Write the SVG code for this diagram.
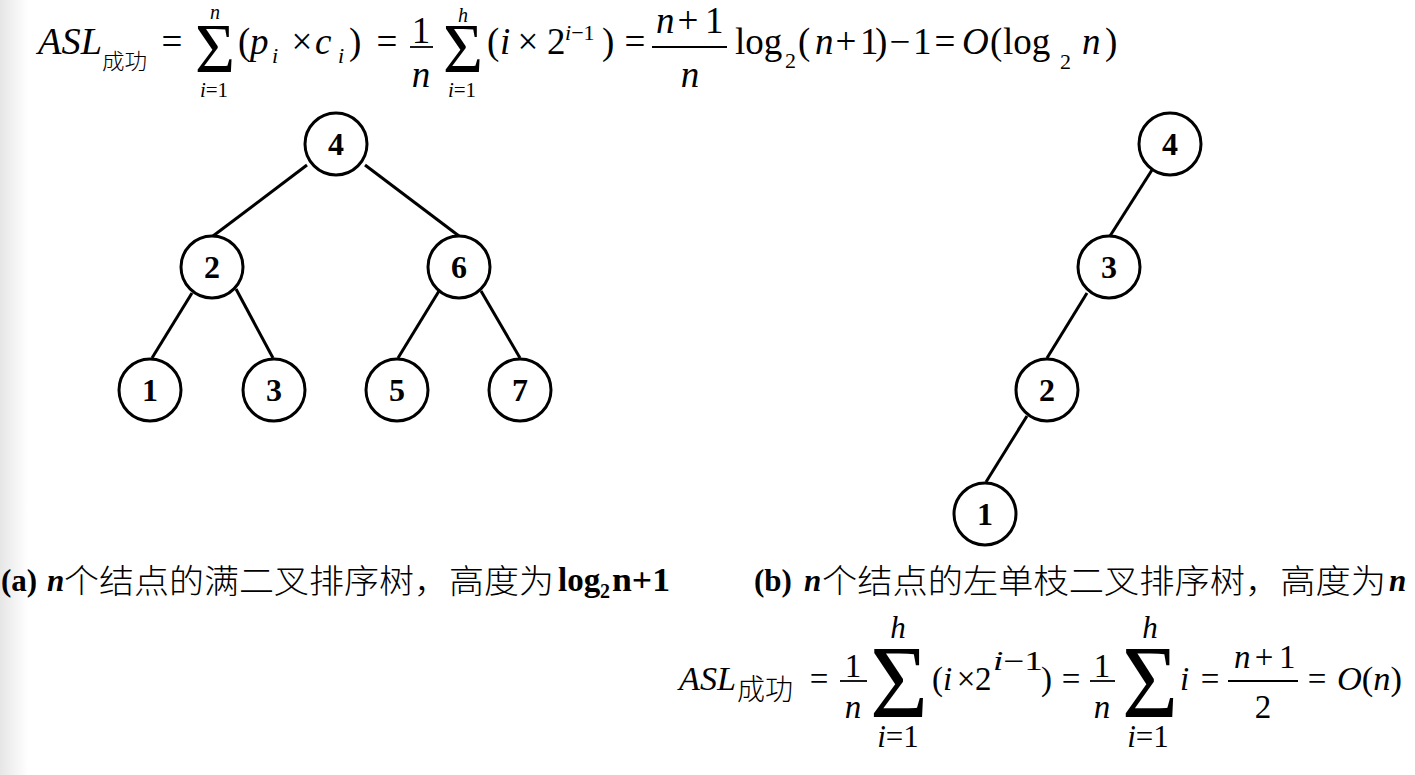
<svg xmlns="http://www.w3.org/2000/svg" width="1415" height="775" viewBox="0 0 1415 775">
<defs>
<linearGradient id="edgeShade" x1="0" y1="0" x2="1" y2="0">
<stop offset="0" stop-color="#e6e6e6"/>
<stop offset="1" stop-color="#ffffff"/>
</linearGradient>
<style>
.m{font-family:'Liberation Serif','Noto Sans CJK SC',serif;fill:#000}
.it{font-style:italic}
.b{font-weight:bold}
.c{text-anchor:middle}
.cjk{font-family:'Liberation Serif','Noto Sans CJK SC',sans-serif;font-weight:300;fill:#000}
.bar{stroke:#000;stroke-width:1.8}
.node circle{fill:#fff;stroke:#000;stroke-width:3}
.node text{font-family:'Liberation Serif',serif;font-weight:bold;font-size:32px;text-anchor:middle;fill:#000}
#connectors line{stroke:#000;stroke-width:3}
</style>
</defs>
<rect width="1415" height="775" fill="#fff"/>
<rect x="0" y="0" width="28" height="775" fill="url(#edgeShade)"/>

<!-- top formula -->
<g id="formula-top" class="m" font-size="37">
<text class="it" x="38" y="54" textLength="64" lengthAdjust="spacingAndGlyphs">ASL</text>
<text class="cjk" x="102" y="69" font-size="22" textLength="45" lengthAdjust="spacingAndGlyphs">成功</text>
<text class="c" x="172" y="54">=</text>
<text class="c" x="215" y="72" font-size="70" textLength="40" lengthAdjust="spacingAndGlyphs">Σ</text>
<text class="c it" x="215" y="19" font-size="20">n</text>
<text class="c" x="214" y="97" font-size="21"><tspan class="it">i</tspan>=1</text>
<text x="238" y="54">(</text>
<text class="it" x="250" y="54">p</text>
<text class="it" x="272" y="63" font-size="22">i</text>
<text class="c" x="302" y="54">×</text>
<text class="it" x="315" y="54">c</text>
<text class="it" x="338" y="63" font-size="22">i</text>
<text x="349" y="54">)</text>
<text class="c" x="387" y="54">=</text>
<text class="c" x="421" y="43">1</text>
<line class="bar" x1="410" y1="47" x2="433" y2="47"/>
<text class="c it" x="421" y="87">n</text>
<text class="c" x="463" y="72" font-size="70" textLength="40" lengthAdjust="spacingAndGlyphs">Σ</text>
<text class="c it" x="463" y="22" font-size="20">h</text>
<text class="c" x="462" y="97" font-size="21"><tspan class="it">i</tspan>=1</text>
<text x="487" y="54">(</text>
<text class="it" x="500" y="54">i</text>
<text class="c" x="528" y="54">×</text>
<text x="547" y="54">2</text>
<text x="565" y="40" font-size="22"><tspan class="it">i</tspan>−1</text>
<text x="602" y="54">)</text>
<text class="c" x="635" y="54">=</text>
<text class="it" x="656" y="33">n</text>
<text class="c" x="688" y="33">+</text>
<text x="705" y="33">1</text>
<line class="bar" x1="652" y1="47" x2="727" y2="47"/>
<text class="c it" x="690" y="87">n</text>
<text x="735" y="54">log</text>
<text x="785" y="68" font-size="22">2</text>
<text x="798" y="54">(</text>
<text class="it" x="815" y="54">n</text>
<text class="c" x="846" y="54">+</text>
<text x="860" y="54">1</text>
<text x="875" y="54">)</text>
<text class="c" x="900" y="54">−</text>
<text x="913" y="54">1</text>
<text class="c" x="945" y="54">=</text>
<text class="it" x="962" y="54">O</text>
<text x="990" y="54">(</text>
<text x="1003" y="54">log</text>
<text x="1060" y="69" font-size="22">2</text>
<text class="it" x="1082" y="54">n</text>
<text x="1105" y="54">)</text>
</g>

<!-- connectors -->
<g id="connectors">
<line x1="307" y1="165" x2="213" y2="236"/>
<line x1="365" y1="165" x2="459" y2="236"/>
<line x1="192" y1="293" x2="152" y2="358"/>
<line x1="236" y1="289" x2="273" y2="358"/>
<line x1="439" y1="291" x2="398" y2="358"/>
<line x1="481" y1="291" x2="520" y2="358"/>
<line x1="1152" y1="170" x2="1110" y2="236"/>
<line x1="1087" y1="293" x2="1047" y2="358"/>
<line x1="1027" y1="416" x2="986" y2="482"/>
</g>

<!-- left tree -->
<g id="a-node-4" class="node"><circle cx="336" cy="144" r="31"/><text x="336" y="155">4</text></g>
<g id="a-node-2" class="node"><circle cx="212" cy="267" r="31"/><text x="212" y="278">2</text></g>
<g id="a-node-6" class="node"><circle cx="459" cy="267" r="31"/><text x="459" y="278">6</text></g>
<g id="a-node-1" class="node"><circle cx="150" cy="390" r="31"/><text x="150" y="401">1</text></g>
<g id="a-node-3" class="node"><circle cx="274" cy="390" r="31"/><text x="274" y="401">3</text></g>
<g id="a-node-5" class="node"><circle cx="397" cy="390" r="31"/><text x="397" y="401">5</text></g>
<g id="a-node-7" class="node"><circle cx="520" cy="390" r="31"/><text x="520" y="401">7</text></g>

<!-- right tree -->
<g id="b-node-4" class="node"><circle cx="1170" cy="144" r="31"/><text x="1170" y="155">4</text></g>
<g id="b-node-3" class="node"><circle cx="1109" cy="267" r="31"/><text x="1109" y="278">3</text></g>
<g id="b-node-2" class="node"><circle cx="1047" cy="390" r="31"/><text x="1047" y="401">2</text></g>
<g id="b-node-1" class="node"><circle cx="985" cy="514" r="31"/><text x="985" y="525">1</text></g>

<!-- captions -->
<g id="caption-a" class="m">
<text class="b" x="1" y="591" font-size="31">(a)</text>
<text class="b it" x="47" y="591" font-size="31">n</text>
<text class="cjk" x="64" y="593" font-size="33" textLength="490" lengthAdjust="spacingAndGlyphs">个结点的满二叉排序树，高度为</text>
<text class="b" x="558" y="591" font-size="33">log</text>
<text class="b" x="600" y="598" font-size="20">2</text>
<text class="b" x="612" y="591" font-size="33" textLength="58" lengthAdjust="spacingAndGlyphs">n+1</text>
</g>
<g id="caption-b" class="m">
<text class="b" x="754" y="591" font-size="31">(b)</text>
<text class="b it" x="804" y="591" font-size="31">n</text>
<text class="cjk" x="822" y="593" font-size="33" textLength="564" lengthAdjust="spacingAndGlyphs">个结点的左单枝二叉排序树，高度为</text>
<text class="b it" x="1389" y="591" font-size="31">n</text>
</g>

<!-- bottom formula -->
<g id="formula-bottom" class="m" font-size="33">
<text class="it" x="679" y="690" textLength="57" lengthAdjust="spacingAndGlyphs">ASL</text>
<text class="cjk" x="737" y="700" font-size="29" textLength="56" lengthAdjust="spacingAndGlyphs">成功</text>
<text class="c" x="819" y="690">=</text>
<text class="c" x="853" y="677">1</text>
<line class="bar" x1="840" y1="681" x2="867" y2="681"/>
<text class="c it" x="853" y="718">n</text>
<text class="c" x="899" y="717" font-size="104" textLength="58" lengthAdjust="spacingAndGlyphs">Σ</text>
<text class="c it" x="898" y="638" font-size="31">h</text>
<text class="c" x="898" y="747" font-size="31"><tspan class="it">i</tspan>=1</text>
<text x="932" y="690">(</text>
<text class="it" x="943" y="690">i</text>
<text class="c" x="966" y="690">×</text>
<text x="975" y="690">2</text>
<text x="993" y="670" font-size="27" textLength="50" lengthAdjust="spacingAndGlyphs"><tspan class="it">i</tspan>−1</text>
<text x="1041" y="690">)</text>
<text class="c" x="1071" y="690">=</text>
<text class="c" x="1102" y="677">1</text>
<line class="bar" x1="1090" y1="681" x2="1115" y2="681"/>
<text class="c it" x="1102" y="718">n</text>
<text class="c" x="1150" y="717" font-size="104" textLength="56" lengthAdjust="spacingAndGlyphs">Σ</text>
<text class="c it" x="1150" y="638" font-size="31">h</text>
<text class="c" x="1148" y="747" font-size="31"><tspan class="it">i</tspan>=1</text>
<text class="it" x="1180" y="690">i</text>
<text class="c" x="1210" y="690">=</text>
<text class="it" x="1234" y="668">n</text>
<text class="c" x="1264" y="668">+</text>
<text x="1279" y="668">1</text>
<line class="bar" x1="1228" y1="681" x2="1298" y2="681"/>
<text class="c" x="1263" y="718">2</text>
<text class="c" x="1317" y="690">=</text>
<text x="1337" y="690" textLength="65" lengthAdjust="spacingAndGlyphs"><tspan class="it">O</tspan>(<tspan class="it">n</tspan>)</text>
</g>
</svg>
